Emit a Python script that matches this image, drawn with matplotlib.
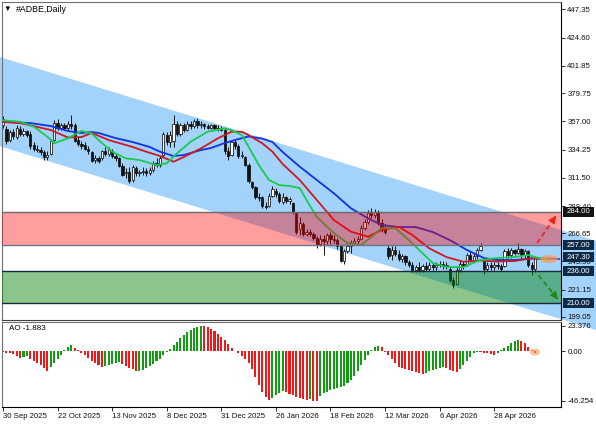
import numpy as np
import matplotlib.pyplot as plt
from matplotlib.patches import Rectangle, Ellipse, Polygon
from matplotlib.transforms import blended_transform_factory

plt.rcParams['font.family'] = ['Liberation Sans', 'DejaVu Sans']

# --- data -------------------------------------------------------------
date_pos = [0, 16, 32, 48, 64, 80, 96, 112, 128, 144]
date_labels = ['30 Sep 2025', '22 Oct 2025', '13 Nov 2025', '8 Dec 2025', '31 Dec 2025',
               '26 Jan 2026', '18 Feb 2026', '12 Mar 2026', '6 Apr 2026', '28 Apr 2026']

price_ticks = [447.35, 424.60, 401.85, 379.75, 357.00, 334.25, 311.50, 288.40,
               266.65, 243.90, 221.15, 199.05]

opens = [354, 351, 342, 348, 344, 351, 347, 349, 347, 338, 335, 334, 332, 328, 331, 342, 356, 352, 354, 352,
         355, 354, 342, 339, 338, 335, 332, 326, 327, 327, 333, 331, 333, 329, 327, 321, 315, 316, 310, 319,
         315, 316, 317, 315, 318, 323, 322, 330, 346, 340, 341, 355, 347, 354, 350, 355, 353, 357, 354, 355,
         353, 352, 354, 352, 351, 350, 333, 330, 340, 337, 329, 328, 322, 308, 304, 296, 296, 289, 289, 297,
         301, 298, 292, 296, 293, 291, 283, 270, 274, 266, 268, 266, 263, 258, 262, 260, 265, 262, 261, 256,
         244, 252, 256, 259, 260, 262, 271, 276, 283, 281, 284, 275, 271, 255, 249, 253, 250, 246, 248, 243,
         241, 237, 239, 237, 240, 238, 241, 239, 241, 242, 240, 238, 229, 226, 237, 242, 241, 249, 245, 248,
         253, 244, 238, 241, 239, 241, 240, 240, 252, 249, 253, 251, 254, 249, 252, 241, 238]
highs = [361, 353, 350, 351, 354, 353, 352, 350, 349, 340, 338, 336, 334, 333, 343, 358, 359, 356, 356, 357,
         362, 356, 344, 341, 340, 337, 333, 330, 329, 334, 336, 336, 335, 331, 328, 323, 319, 320, 322, 321,
         318, 320, 319, 320, 325, 327, 329, 348, 348, 349, 362, 357, 356, 356, 357, 357, 359, 360, 357, 356,
         355, 355, 355, 354, 353, 352, 336, 341, 342, 339, 333, 329, 323, 309, 305, 299, 297, 292, 299, 305,
         303, 300, 299, 297, 296, 292, 284, 280, 276, 270, 270, 268, 264, 265, 265, 267, 268, 265, 263, 257,
         254, 258, 261, 263, 264, 273, 278, 285, 287, 286, 285, 278, 274, 257, 256, 256, 253, 250, 249, 245,
         243, 241, 243, 242, 243, 243, 243, 243, 244, 244, 243, 240, 231, 239, 244, 244, 251, 252, 251, 255,
         259, 245, 243, 243, 243, 243, 242, 254, 255, 255, 254, 259, 255, 254, 253, 243, 248]
lows = [352, 339, 340, 343, 343, 345, 345, 344, 335, 333, 332, 330, 326, 326, 330, 341, 350, 350, 350, 350,
        351, 340, 337, 335, 334, 331, 324, 323, 323, 326, 329, 329, 327, 325, 320, 313, 311, 307, 308, 313,
        313, 314, 313, 314, 316, 320, 320, 328, 338, 336, 336, 345, 345, 348, 349, 351, 352, 352, 352, 351,
        351, 351, 350, 349, 349, 331, 326, 329, 335, 327, 327, 321, 307, 302, 294, 293, 287, 286, 288, 296,
        296, 291, 290, 291, 290, 282, 266, 265, 264, 264, 264, 261, 255, 256, 249, 258, 258, 259, 254, 243,
        242, 251, 251, 257, 258, 261, 269, 274, 279, 279, 273, 268, 266, 246, 245, 248, 244, 243, 241, 239,
        235, 235, 235, 235, 236, 236, 237, 237, 239, 238, 238, 227, 222, 225, 235, 238, 240, 243, 243, 246,
        252, 234, 236, 237, 237, 238, 236, 239, 247, 247, 249, 250, 247, 247, 239, 233, 235]
closes = [359, 341, 348, 345, 352, 347, 349, 346, 337, 335, 334, 332, 328, 330, 341, 356, 352, 354, 352, 355,
          353, 341, 339, 337, 335, 333, 325, 327, 325, 333, 331, 334, 329, 327, 321, 314, 316, 309, 320, 315,
          316, 317, 315, 318, 323, 322, 327, 347, 340, 346, 355, 347, 354, 350, 355, 353, 357, 354, 355, 353,
          352, 354, 352, 351, 350, 333, 329, 340, 337, 329, 330, 322, 309, 304, 296, 295, 289, 288, 297, 302,
          298, 293, 296, 293, 294, 284, 268, 275, 266, 268, 266, 263, 257, 262, 260, 265, 262, 261, 256, 244,
          252, 256, 259, 260, 262, 271, 276, 283, 281, 284, 275, 270, 268, 248, 253, 250, 246, 248, 243, 241,
          237, 239, 237, 240, 238, 241, 239, 241, 242, 240, 241, 229, 225, 237, 242, 240, 249, 245, 248, 253,
          256, 238, 241, 239, 241, 240, 238, 252, 249, 253, 251, 254, 249, 252, 241, 238, 247.3]

# Alligator lines, read at sample bars
jaw_x = [-1, 8, 14, 19, 23, 26, 28, 33, 38, 43, 46, 50, 53, 58, 61, 65, 69, 72, 76, 79, 82, 87, 92,
         97, 102, 107, 111, 116, 121, 126, 131, 136, 141, 145, 150, 155, 160, 163]
jaw_y = [356.7, 355.6, 353.2, 349.2, 347.6, 348.4, 347.6, 343.5, 340.3, 336.3, 332.5, 329.0, 329.8,
         333.8, 335.5, 339.5, 342.7, 344.8, 343.1, 340.3, 332.2, 320.4, 309.6, 298.9, 286.8, 278.7,
         273.3, 271.6, 271.6, 267.6, 261.1, 253.1, 246.6, 245.0, 245.0, 246.2, 246.2, 245.8]
teeth_x = [-1, 5, 14, 19, 23, 26, 31, 38, 42, 46, 50, 53, 58, 63, 67, 70, 72, 76, 79, 82, 87, 92, 97,
           102, 107, 111, 116, 120, 125, 130, 135, 140, 145, 150, 155, 160]
teeth_y = [356.7, 355.6, 350.0, 344.0, 344.3, 347.6, 341.9, 336.3, 332.5, 329.0, 324.4, 328.2, 335.1,
           343.3, 348.6, 348.6, 345.9, 339.3, 332.5, 322.5, 309.6, 293.5, 277.3, 267.9, 263.8, 269.2,
           271.9, 265.2, 254.4, 247.4, 243.6, 244.6, 243.8, 244.2, 246.4, 245.6]
lips_x = [-1, 5, 9, 13, 15, 19, 23, 26, 28, 32, 36, 40, 45, 48, 51, 55, 60, 65, 67, 70, 72, 75, 78,
          81, 84, 87, 89, 92, 97, 101, 105, 108, 111, 115, 119, 122, 126, 130, 135, 140, 145, 150,
          154, 157, 160]
lips_y = [358.1, 356.7, 352.7, 344.6, 339.3, 343.3, 349.2, 347.3, 341.9, 332.5, 327.1, 325.8, 321.7,
          323.1, 331.2, 340.5, 348.6, 351.4, 350.0, 345.9, 336.5, 321.7, 309.6, 305.5, 304.8, 303.1,
          293.4, 279.7, 266.8, 258.7, 257.1, 263.6, 270.8, 270.8, 261.1, 253.1, 242.6, 239.3, 239.3,
          245.0, 246.6, 247.4, 249.0, 246.6, 245.0]

# Awesome Oscillator, one value per bar
ao_values = [-1.0, -1.6, -2.2, -3.0, -4.4, -6.2, -5.6, -5.0, -7.0, -9.2, -11.3, -13.4, -15.6, -18.5,
             -15.2, -11.4, -7.3, -3.6, 1.2, 3.8, 5.2, 3.0, 0.6, -1.6, -4.0, -6.5, -9.0, -11.4, -13.2,
             -14.6, -13.6, -12.6, -11.6, -10.7, -10.1, -11.6, -13.5, -15.4, -17.0, -18.8, -18.2, -17.4,
             -15.9, -14.0, -12.0, -9.5, -7.0, -4.0, -1.0, 2.2, 5.3, 8.8, 12.1, 15.0, 17.6, 19.6, 21.4,
             22.6, 23.376, 23.1, 22.0, 20.5, 18.6, 16.1, 13.2, 10.1, 6.9, 3.2, 0.2, -2.1, -4.3, -7.2,
             -11.3, -17.0, -24.2, -31.6, -37.9, -42.6, -45.4, -43.6, -41.2, -39.1, -37.4, -38.1, -39.6,
             -41.0, -42.2, -43.3, -44.6, -45.4, -44.9, -45.9, -46.254, -42.1, -39.3, -37.6, -36.2, -35.1,
             -34.2, -33.4, -32.1, -30.0, -27.1, -23.2, -18.3, -13.1, -8.2, -3.6, 0.8, 3.6, 5.1, 3.4,
             -0.9, -3.6, -7.1, -11.0, -14.4, -15.9, -16.7, -17.6, -18.6, -19.5, -20.4, -21.2, -20.1,
             -18.9, -17.6, -16.5, -15.6, -15.0, -15.9, -17.3, -18.4, -19.1, -16.8, -13.1, -9.0, -5.1,
             -1.6, -0.7, -1.1, -1.5, -1.9, -2.6, -3.5, -1.4, 0.6, 2.6, 5.1, 7.4, 9.3, 10.2, 9.5, 7.1,
             4.0, 1.4, -1.883]

# regression channel ends (bar, top, bottom)
chan_bars = [-1, 175]
chan_top = [409.0, 259.5]
chan_bot = [337.0, 187.5]

resist = (257.0, 284.0)
support = (210.0, 236.0)
last_price = 247.30

# --- figure -----------------------------------------------------------
W, H = 596, 425
fig = plt.figure(figsize=(W / 100, H / 100), dpi=100)


def px_axes(x0, y0, x1, y1):
    return fig.add_axes([x0 / W, 1 - y1 / H, (x1 - x0) / W, (y1 - y0) / H])


ax = px_axes(2, 2, 561, 320)
ao = px_axes(2, 322, 561, 407)
xlim = (-0.3, 163.6)

# channel (spills over the price scale like in the terminal)
ax.add_patch(Polygon([(chan_bars[0], chan_top[0]), (chan_bars[1], chan_top[1]),
                      (chan_bars[1], chan_bot[1]), (chan_bars[0], chan_bot[0])],
                     closed=True, fc='#a3d3fb', ec='none', zorder=1, clip_on=False))

# candles
o = np.array(opens, float)
h = np.array(highs, float)
l = np.array(lows, float)
c = np.array(closes, float)
x = np.arange(len(c))
up = c >= o
ax.vlines(x, l, h, color='#111111', lw=0.7, zorder=2)
ax.bar(x[up], (c - o)[up], bottom=o[up], width=0.66, color='white', edgecolor='#111111', lw=0.55, zorder=2.5)
ax.bar(x[~up], (c - o)[~up], bottom=o[~up], width=0.66, color='#111111', edgecolor='#111111', lw=0.55, zorder=2.5)

# alligator
ax.plot(jaw_x, jaw_y, color='#1230e6', lw=1.3, zorder=3)
ax.plot(teeth_x, teeth_y, color='#cc1a22', lw=1.3, zorder=3)
ax.plot(lips_x, lips_y, color='#1cc850', lw=1.3, zorder=3)
ax.add_patch(Ellipse((160.2, 245.8), 5.3, 6.5, fc='#ff9a50', ec='none', alpha=0.7, zorder=3.5))

# zones
ax.axhspan(*resist, color='#ff0000', alpha=0.38, lw=0, zorder=4)
ax.axhspan(*support, color='#008000', alpha=0.45, lw=0, zorder=4)
ax.axhline(resist[1], color='#6b6b6b', lw=1.0, zorder=5)
ax.axhline(resist[0], color='#6d7686', lw=1.0, zorder=5)
ax.axhline(support[1], color='#182a38', lw=1.0, zorder=5)
ax.axhline(support[0], color='#182a38', lw=1.0, zorder=5)

# dashed arrows
for (x0, y0, x1, y1, col) in [(156.6, 258.7, 162.7, 283.0, '#f02020'),
                              (157.0, 232.8, 163.3, 211.1, '#1a8a1a')]:
    ax.plot([x0, x0 + (x1 - x0) * 0.8], [y0, y0 + (y1 - y0) * 0.8], ls=(0, (3, 2)),
            color=col, lw=1.2, zorder=6)
    ax.annotate('', xy=(x1, y1), xytext=(x0 + (x1 - x0) * 0.7, y0 + (y1 - y0) * 0.7),
                arrowprops=dict(arrowstyle='-|>,head_length=0.5,head_width=0.22', color=col, lw=0.8),
                zorder=6, annotation_clip=False)

ax.set_xlim(*xlim)
ax.set_ylim(196.55, 453.4)
ax.set_xticks([])
ax.yaxis.tick_right()
ax.set_yticks(price_ticks)
ax.set_yticklabels([f'{v:.2f}' for v in price_ticks])
ax.tick_params(axis='y', length=3, width=0.6, pad=1.5, labelsize=5.6, colors='#111111')

# price boxes on the scale
trans = blended_transform_factory(ax.transAxes, ax.transData)
boxes = [(resist[1], '#141414'), (resist[0], '#0f2a47'), (last_price, '#0f2a47'),
         (support[1], '#0f2a47'), (support[0], '#0f2a47')]
for val, fc in boxes:
    ax.add_patch(Rectangle((1.0036, val - 4.0), 0.0555, 8.0, transform=trans, fc=fc, ec='none',
                           clip_on=False, zorder=7))
    ax.text(1.0036 + 0.0555 / 2, val, f'{val:.2f}', transform=trans, ha='center', va='center',
            color='white', fontsize=5.6, zorder=8, clip_on=False)

for s in ax.spines.values():
    s.set_color('#707070')
    s.set_linewidth(0.8)
ax.spines['right'].set_color('black')
ax.spines['bottom'].set_color('#404040')

fig.text(7 / W, 1 - 9 / H, '\u25bc', fontsize=5.5, ha='center', va='center')
fig.text(16 / W, 1 - 9 / H, '#ADBE,Daily', fontsize=6.3, ha='left', va='center')

# --- AO panel ---------------------------------------------------------
ao_arr = np.array(ao_values)
ao_col = ['#f01818'] + ['#129c12' if ao_arr[i] > ao_arr[i - 1] else '#f01818'
                        for i in range(1, len(ao_arr))]
ao.bar(np.arange(len(ao_arr)), ao_arr, width=0.6, color=ao_col, lw=0, zorder=2)
ao.add_patch(Ellipse((156.0, -1.0), 3.0, 6.5, fc='#ff9a50', ec='none', alpha=0.6, zorder=3))
ao.set_xlim(*xlim)
ao.set_ylim(-51.9, 26.9)
ao.yaxis.tick_right()
ao.set_yticks([23.376, 0.0, -46.254])
ao.set_yticklabels(['23.376', '0.00', '-46.254'])
ao.set_xticks(date_pos)
ao.set_xticklabels(date_labels)
for lab in ao.get_xticklabels():
    lab.set_ha('left')
ao.tick_params(axis='y', length=3, width=0.6, pad=1.5, labelsize=5.6, colors='#111111')
ao.tick_params(axis='x', length=3, width=0.6, pad=1, labelsize=5.6, colors='#111111')
for s in ao.spines.values():
    s.set_color('#707070')
    s.set_linewidth(0.8)
ao.spines['right'].set_color('black')
ao.spines['bottom'].set_color('black')
ao.text(7 / 559, 1 - 6 / 85, 'AO -1.883', transform=ao.transAxes, fontsize=5.8,
        ha='left', va='center')

fig.savefig('out.png', dpi=100)
